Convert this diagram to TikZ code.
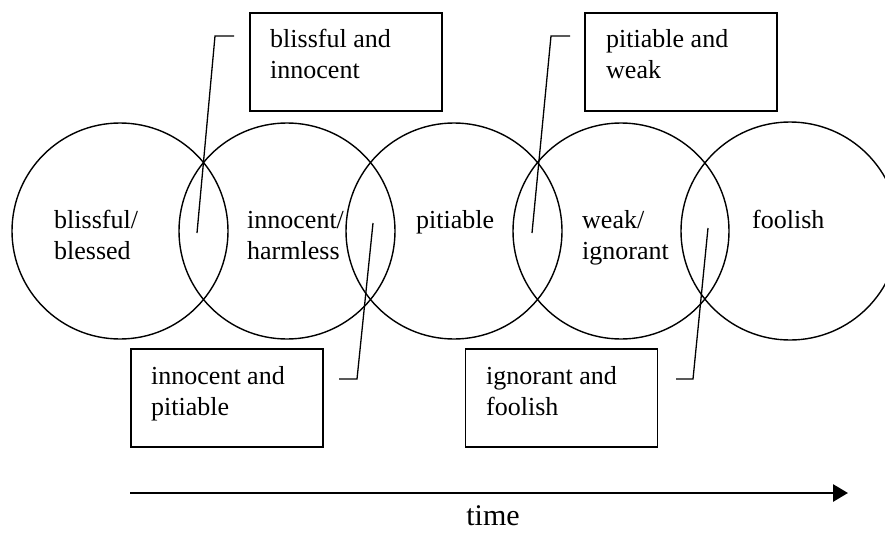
\documentclass[tikz,border=0pt]{standalone}
\usepackage{fontspec}
\setmainfont{Liberation Serif}
\usetikzlibrary{arrows.meta}
\begin{document}
\begin{tikzpicture}[x=1pt,y=-1pt,
  circ/.style={draw,circle,line width=1.4pt,minimum size=216pt,inner sep=0pt},
  boxr/.style={draw,rectangle,line width=1.5pt,minimum width=192pt,minimum height=98pt,inner sep=0pt},
  lbl/.style={anchor=base west,inner sep=0pt,font=\fontsize{26}{31}\selectfont},
  lead/.style={line width=1.3pt},
  timearrow/.style={line width=2.8pt,-{Triangle[length=15pt,width=17pt]}}]
\useasboundingbox (0,0) rectangle (885,533);
% circles
\node[circ] (c1) at (120,231) {};
\node[circ] (c2) at (287,231) {};
\node[circ] (c3) at (454,231) {};
\node[circ] (c4) at (621,231) {};
\node[circ,minimum size=218pt] (c5) at (790,231) {};
% circle labels
\node[lbl] (t1) at (54,228) {\begin{tabular}[t]{@{}l@{}}blissful/\\blessed\end{tabular}};
\node[lbl] (t2) at (247,228) {\begin{tabular}[t]{@{}l@{}}innocent/\\harmless\end{tabular}};
\node[lbl] (t3) at (416,228) {pitiable};
\node[lbl] (t4) at (582,228) {\begin{tabular}[t]{@{}l@{}}weak/\\ignorant\end{tabular}};
\node[lbl] (t5) at (752,228) {foolish};
% boxes
\node[boxr] (b1) at (346,62) {};
\node[boxr] (b2) at (681,62) {};
\node[boxr] (b3) at (227,398) {};
\node[boxr] (b4) at (561.5,398) {};
\node[lbl] (bt1) at (270,47) {\begin{tabular}[t]{@{}l@{}}blissful and\\innocent\end{tabular}};
\node[lbl] (bt2) at (606,47) {\begin{tabular}[t]{@{}l@{}}pitiable and\\weak\end{tabular}};
\node[lbl] (bt3) at (151,384) {\begin{tabular}[t]{@{}l@{}}innocent and\\pitiable\end{tabular}};
\node[lbl] (bt4) at (486,384) {\begin{tabular}[t]{@{}l@{}}ignorant and\\foolish\end{tabular}};
% leader lines
\coordinate (l1a) at (234,36); \coordinate (l1b) at (215,36); \coordinate (l1c) at (197,233);
\coordinate (l2a) at (570,36); \coordinate (l2b) at (551,36); \coordinate (l2c) at (532,233);
\coordinate (l3a) at (339,379); \coordinate (l3b) at (357,379); \coordinate (l3c) at (373,223);
\coordinate (l4a) at (676,379); \coordinate (l4b) at (693,379); \coordinate (l4c) at (708,228);
\draw[lead] (l1a) -- (l1b) -- (l1c);
\draw[lead] (l2a) -- (l2b) -- (l2c);
\draw[lead] (l3a) -- (l3b) -- (l3c);
\draw[lead] (l4a) -- (l4b) -- (l4c);
% time arrow
\coordinate (ta) at (130,493);
\coordinate (tb) at (848,493);
\draw[timearrow] (ta) -- (tb);
\node[anchor=base,inner sep=0pt,font=\fontsize{30}{36}\selectfont] (time) at (493,525) {time};
\end{tikzpicture}
\end{document}
